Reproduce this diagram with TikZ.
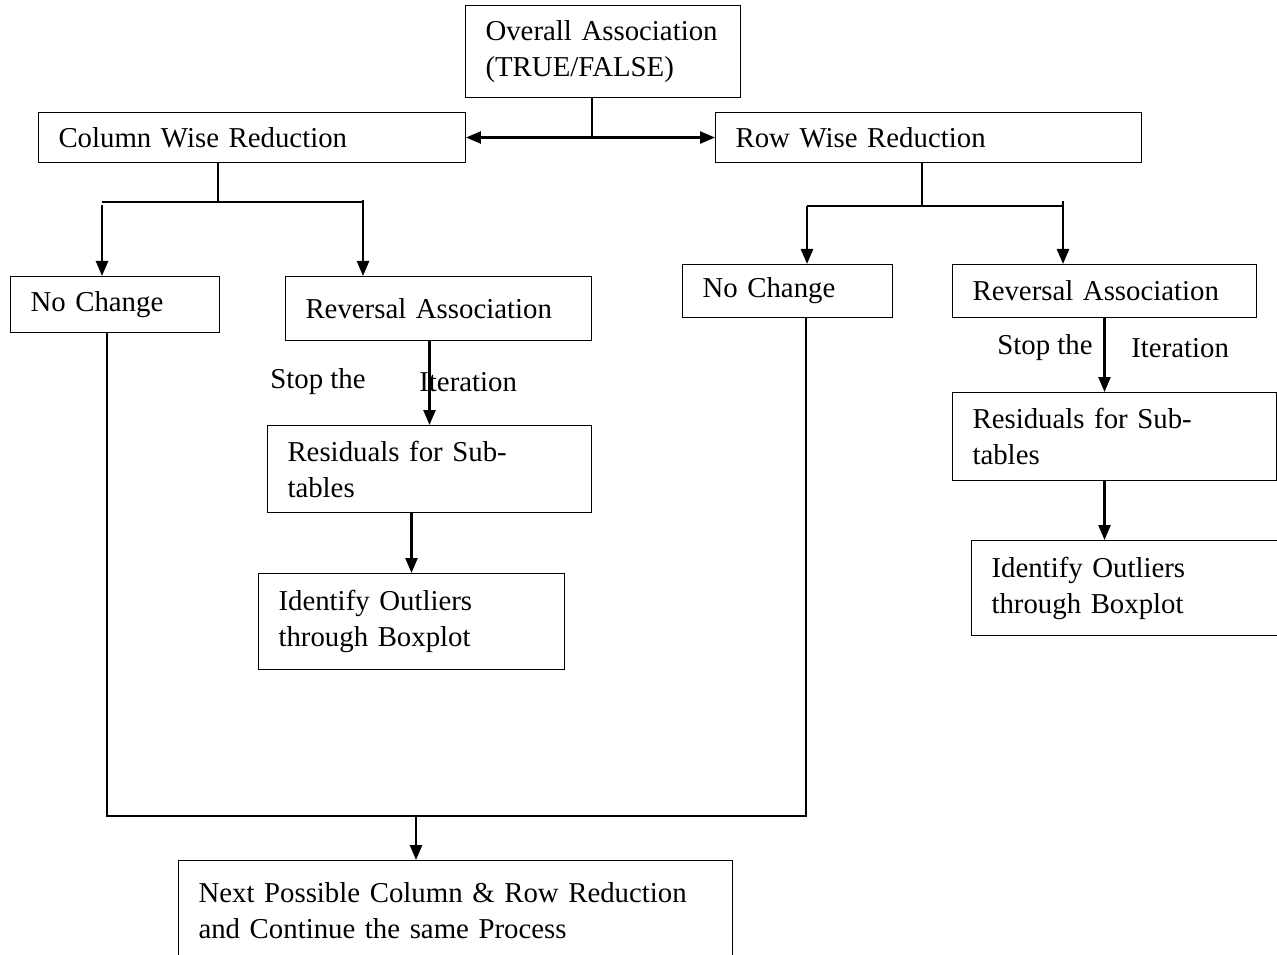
\documentclass[tikz,border=0pt]{standalone}
\usepackage{fontspec}
\setmainfont{Liberation Serif}
\usetikzlibrary{positioning,arrows.meta,calc}

\begin{document}
\begin{tikzpicture}[
    x=0.02cm,y=-0.02cm,
    box/.style={rectangle,draw=black,line width=0.6pt,anchor=north west,align=left,inner xsep=0.4cm,inner ysep=0pt,font=\fontsize{16.4}{20.5}\selectfont},
    lbl/.style={anchor=west,inner sep=0pt,font=\fontsize{16.4}{20.5}\selectfont},
    link/.style={line width=0.6pt},
    arrow/.style={-{Triangle[length=0.3cm,width=0.24cm]},line width=1.4pt}
]
\useasboundingbox (0,0) rectangle (1277,955);

% top
\node[box,text width=4.7cm,minimum height=1.84cm] (ovr) at (465,5) {Overall Association\\(TRUE/FALSE)};
\node[box,text width=7.74cm,minimum height=1.0cm] (col) at (38,112) {Column Wise Reduction};
\node[box,text width=7.72cm,minimum height=1.0cm] (row) at (715,112) {Row Wise Reduction};

\coordinate (top-j) at (592,137);
\draw[link] (ovr.south -| top-j) -- (top-j);
\draw[{Triangle[length=0.3cm,width=0.24cm]}-{Triangle[length=0.3cm,width=0.24cm]},line width=1.4pt] (col.east) -- (row.west);

% column side (left)
\node[box,text width=3.38cm,minimum height=1.12cm] (l-nc) at (10,276) {No Change};
\node[box,text width=5.32cm,minimum height=1.28cm] (l-rev) at (285,276) {Reversal Association};
\node[box,text width=5.68cm,minimum height=1.74cm] (l-res) at (267,425) {Residuals for Sub-\\tables};
\node[box,text width=5.32cm,minimum height=1.92cm] (l-out) at (258,573) {Identify Outliers\\through Boxplot};
\node[lbl] (l-stop) at (270,382) {Stop the};
\node[lbl] (l-iter) at (419,382) {Iteration};

\coordinate (l-j) at (218,202);
\coordinate (l-b1) at (102,202);
\coordinate (l-b2) at (363,202);
\draw[link] (col.south -| l-j) -- (l-j);
\draw[link] (l-b1) -- (l-b2);
\draw[arrow] ([yshift=-0.06cm]l-b1) -- (l-b1 |- l-nc.north);
\draw[arrow] ([yshift=0.04cm]l-b2) -- (l-b2 |- l-rev.north);
\draw[arrow] (l-rev.south -| l-res.north) -- (l-res.north);
\draw[arrow] (l-res.south -| l-out.north) -- (l-out.north);

% row side (right)
\node[box,text width=3.4cm,minimum height=1.06cm] (r-nc) at (682,264) {No Change};
\node[box,text width=5.28cm,minimum height=1.06cm] (r-rev) at (952,264) {Reversal Association};
\node[box,text width=5.68cm,minimum height=1.76cm] (r-res) at (952,392) {Residuals for Sub-\\tables};
\node[box,text width=5.32cm,minimum height=1.9cm] (r-out) at (971,540) {Identify Outliers\\through Boxplot};
\node[lbl] (r-stop) at (997,348) {Stop the};
\node[lbl] (r-iter) at (1131,348) {Iteration};

\coordinate (r-j) at (922,205);
\coordinate (r-b1) at (807,206);
\coordinate (r-b2) at (1063,206);
\draw[link] (row.south -| r-j) -- (r-j);
\draw[link] (r-b1) -- (r-b2);
\draw[arrow] (r-b1) -- (r-b1 |- r-nc.north);
\draw[arrow] ([yshift=0.1cm]r-b2) -- (r-b2 |- r-nc.north);
\draw[arrow] (r-rev.south) -- (r-rev.south |- r-res.north);
\draw[arrow] (r-res.south -| r-rev.south) -- (r-rev.south |- r-out.north);

% merge
\node[box,text width=10.28cm,minimum height=2.0cm] (next) at (178,860) {Next Possible Column \& Row Reduction\\and Continue the same Process};
\coordinate (m-l) at (107,816);
\coordinate (m-r) at (806,816);
\coordinate (m-c) at (416,816);
\draw[link] (l-nc.south -| m-l) -- (m-l) -- (m-r) -- (m-r |- r-nc.south);
\draw[arrow] (m-c) -- (m-c |- next.north);

\end{tikzpicture}
\end{document}
